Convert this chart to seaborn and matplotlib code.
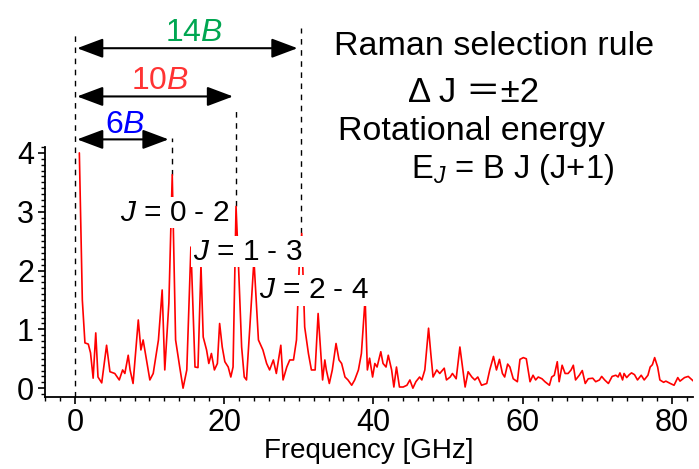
import numpy as np
import seaborn as sns
import matplotlib.pyplot as plt
from matplotlib.ticker import MultipleLocator

# spectrum (GHz, arb. units)
freq = [0.6, 1.0, 1.35, 1.8, 2.1, 2.45, 2.8, 3.1, 3.6, 4.25, 4.7, 5.35, 5.95, 6.4, 6.7,
        7.15, 7.4, 7.8, 8.5, 8.85, 9.15, 9.6, 10.05, 10.5, 11.2, 11.7, 12.05, 12.6, 13.05,
        13.5, 14.05, 14.5, 15.0, 15.55, 16.1, 16.5, 16.9, 17.2, 17.65, 17.95, 18.3, 18.7,
        19.1, 19.4, 19.75, 20.1, 20.55, 20.9, 21.2, 21.6, 21.9, 22.35, 22.7, 23.0, 23.45,
        24.0, 24.6, 25.2, 25.7, 26.1, 26.6, 27.0, 27.6, 27.9, 28.4, 28.8, 29.3, 29.7, 30.1,
        30.4, 30.8, 31.3, 31.7, 32.2, 32.6, 33.2, 33.5, 33.7, 34.1, 34.5, 35.0, 35.4, 35.75,
        36.2, 36.6, 37.1, 37.5, 38.0, 38.4, 38.9, 39.2, 39.5, 39.9, 40.2, 40.5, 41.0, 41.3,
        41.7, 42.0, 42.45, 42.75, 43.1, 43.5, 44.0, 44.5, 44.9, 45.3, 45.7, 46.2, 46.5, 46.9,
        47.4, 47.7, 48.0, 48.5, 48.9, 49.5, 49.8, 50.3, 50.6, 51.1, 51.6, 52.0, 52.3, 52.7,
        53.2, 53.6, 54.0, 54.5, 55.2, 55.6, 56.1, 56.5, 56.9, 57.3, 57.6, 58.0, 58.3, 58.75,
        59.3, 59.65, 60.1, 60.5, 61.0, 61.4, 61.75, 62.1, 62.6, 63.0, 63.6, 63.9, 64.25,
        64.65, 64.9, 65.3, 65.7, 66.1, 66.5, 66.8, 67.1, 67.6, 68.0, 68.4, 68.8, 69.4, 69.8,
        70.3, 70.6, 71.0, 71.5, 72.0, 72.5, 72.8, 73.05, 73.4, 73.6, 73.95, 74.3, 74.6, 75.0,
        75.4, 75.9, 76.3, 76.8, 77.1, 77.4, 77.7, 78.1, 78.4, 78.9, 79.2, 79.8, 80.3, 80.8,
        81.1, 81.7, 82.2, 82.9]
amp = [4.0, 1.5, 0.77, 0.75, 0.6, 0.17, 0.94, 0.19, 0.09, 0.73, 0.28, 0.25, 0.14, 0.31, 0.25,
       0.56, 0.31, 0.08, 1.16, 0.65, 0.82, 0.48, 0.14, 0.25, 0.82, 1.67, 0.31, 1.45, 3.63,
       0.82, 0.36, 0.0, 0.31, 2.4, 0.36, 0.35, 2.09, 0.87, 0.65, 0.42, 0.59, 0.31,
       0.42, 1.1, 0.7, 0.45, 0.36, 0.19, 0.36, 3.09, 2.18, 0.7, 0.19, 0.14, 1.04,
       2.18, 0.82, 0.65, 0.42, 0.31, 0.48, 0.25, 0.73, 0.14, 0.36, 0.48, 0.48, 0.82, 2.18,
       2.63, 1.04, 0.59, 0.31, 0.31, 1.27, 0.14, 0.48, 0.31, 0.08, 0.31, 0.76, 0.48, 0.42,
       0.19, 0.14, 0.05, 0.14, 0.31, 0.59, 1.53, 0.31, 0.51, 0.19, 0.42, 0.36, 0.62, 0.42,
       0.36, 0.56, 0.31, 0.02, 0.36, 0.02, 0.02, 0.05, 0.14, 0.0, 0.11, 0.19, 0.14, 0.31,
       1.02, 0.59, 0.19, 0.31, 0.25, 0.34, 0.14, 0.19, 0.25, 0.16, 0.70, 0.31, 0.02, 0.28,
       0.19, 0.14, 0.19, 0.05, 0.08, 0.31, 0.54, 0.31, 0.49, 0.25, 0.19, 0.41, 0.36, 0.16,
       0.11, 0.49, 0.52, 0.5, 0.11, 0.22, 0.14, 0.19, 0.16, 0.11, 0.05, 0.19, 0.22,
       0.45, 0.11, 0.39, 0.25, 0.25, 0.31, 0.39, 0.14, 0.22, 0.3, 0.08, 0.16, 0.17, 0.11,
       0.14, 0.2, 0.14, 0.08, 0.2, 0.22, 0.19, 0.26, 0.14, 0.25, 0.18, 0.23, 0.26, 0.23,
       0.14, 0.22, 0.14, 0.22, 0.36, 0.4, 0.52, 0.36, 0.14, 0.1, 0.12, 0.08, 0.05, 0.18,
       0.12, 0.18, 0.2, 0.12]

B = 2.16  # rotational constant [GHz]
spacings = [6, 10, 14]
spacing_labels = ['6', '10', '14']
spacing_colors = ['#0000ff', '#ff3333', '#00a651']
transitions = ['0 - 2', '1 - 3', '2 - 4']

sns.set_style('ticks')
plt.rcParams['font.family'] = ['Liberation Sans', 'Noto Sans CJK JP', 'DejaVu Sans']
plt.rcParams['mathtext.fontset'] = 'custom'
plt.rcParams['mathtext.rm'] = 'Liberation Sans'
plt.rcParams['mathtext.it'] = 'Liberation Sans:italic'
for k in ['text.color', 'axes.labelcolor', 'xtick.color', 'ytick.color', 'axes.edgecolor']:
    plt.rcParams[k] = 'black'

fig = plt.figure(figsize=(6.99, 4.69), dpi=100)
ax = fig.add_axes([0.0644, 0.1535, 0.9266, 0.533])

sns.lineplot(x=freq, y=amp, color='red', lw=1.2, ax=ax, zorder=3)

ax.set_xlim(-4, 82.8)
ax.set_ylim(-0.15, 4.1)
ax.xaxis.set_major_locator(MultipleLocator(20))
ax.xaxis.set_minor_locator(MultipleLocator(2))
ax.yaxis.set_major_locator(MultipleLocator(1))
ax.yaxis.set_minor_locator(MultipleLocator(0.1))
ax.tick_params(which='major', length=5, width=1.2, labelsize=22, pad=3)
ax.tick_params(which='minor', length=3, width=1.0)
ax.set_xlabel('Frequency [GHz]', fontsize=20, labelpad=0)
sns.despine(ax=ax)
for sp in ['left', 'bottom']:
    ax.spines[sp].set_linewidth(1.3)

# dashed guide lines
fa = np.array(freq)
aa = np.array(amp)
dash_x = [0] + [n * B for n in spacings]
dash_top = [6.06, 4.26, 4.77, 6.13]
dash_bot = [-0.15] + [aa[np.abs(fa - n * B) < 0.4].max() for n in spacings]
ax.vlines(dash_x, dash_bot, dash_top, colors='black', linestyles=(0, (4, 4)),
          lw=1.0, clip_on=False, zorder=2)

# arrows and nB labels
arrow_y = [4.23, 4.96, 5.78]
label_x = [6.7, 11.4, 16.0]
label_y = [4.34, 5.09, 5.91]
for n, lab, c, ay, lx, ly in zip(spacings, spacing_labels, spacing_colors, arrow_y, label_x, label_y):
    ax.annotate('', xy=(n * B - 0.4, ay), xytext=(0.3, ay), annotation_clip=False,
                arrowprops=dict(arrowstyle='<|-|>,head_length=0.8,head_width=0.3',
                                color='black', lw=1.5, mutation_scale=20,
                                shrinkA=0, shrinkB=0))
    ax.text(lx, ly, lab + r'$\mathit{B}$', color=c, fontsize=23, ha='center',
            va='baseline', clip_on=False)

# transition labels
tr_x = [6.1, 15.8, 24.7]
tr_y = [2.85, 2.18, 1.53]
for t, tx, ty in zip(transitions, tr_x, tr_y):
    ax.text(tx, ty, r'$J$ = ' + t, fontsize=21.5, ha='left', va='baseline', zorder=4,
            bbox=dict(facecolor='white', edgecolor='none', pad=1))

fig.text(0.478, 0.883, 'Raman selection rule', fontsize=24.5, ha='left', va='baseline')
fig.text(0.584, 0.7825, 'Δ J ＝±2', fontsize=25, ha='left', va='baseline')
fig.text(0.4835, 0.7015, 'Rotational energy', fontsize=24.5, ha='left', va='baseline')
fig.text(0.588, 0.620, r'E$_{J}$ = B J (J+1)', fontsize=23.5, ha='left', va='baseline')

fig.savefig('out.png', dpi=100)
